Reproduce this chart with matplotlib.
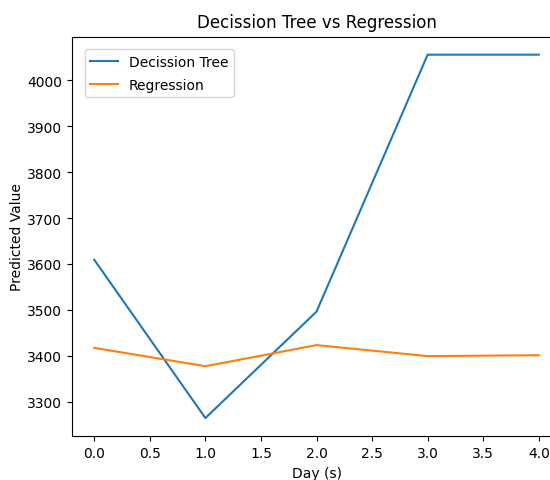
import matplotlib
matplotlib.use("Agg")
import matplotlib.pyplot as plt

days = [0, 1, 2, 3, 4]
decision_tree = [3609, 3264, 3496, 4056, 4056]
regression = [3417, 3377, 3423, 3399, 3401]

fig = plt.figure(figsize=(5.5, 4.81), dpi=100)
ax = fig.add_axes([0.131, 0.091, 0.889, 0.831])
ax.plot(days, decision_tree, label="Decission Tree")
ax.plot(days, regression, label="Regression")
ax.set_title("Decission Tree vs Regression", pad=7)
ax.set_xlabel("Day (s)")
ax.set_ylabel("Predicted Value", labelpad=2)
ax.legend(loc="upper left", borderaxespad=0.9, labelspacing=0.65)
fig.savefig("out.png", dpi=100)
